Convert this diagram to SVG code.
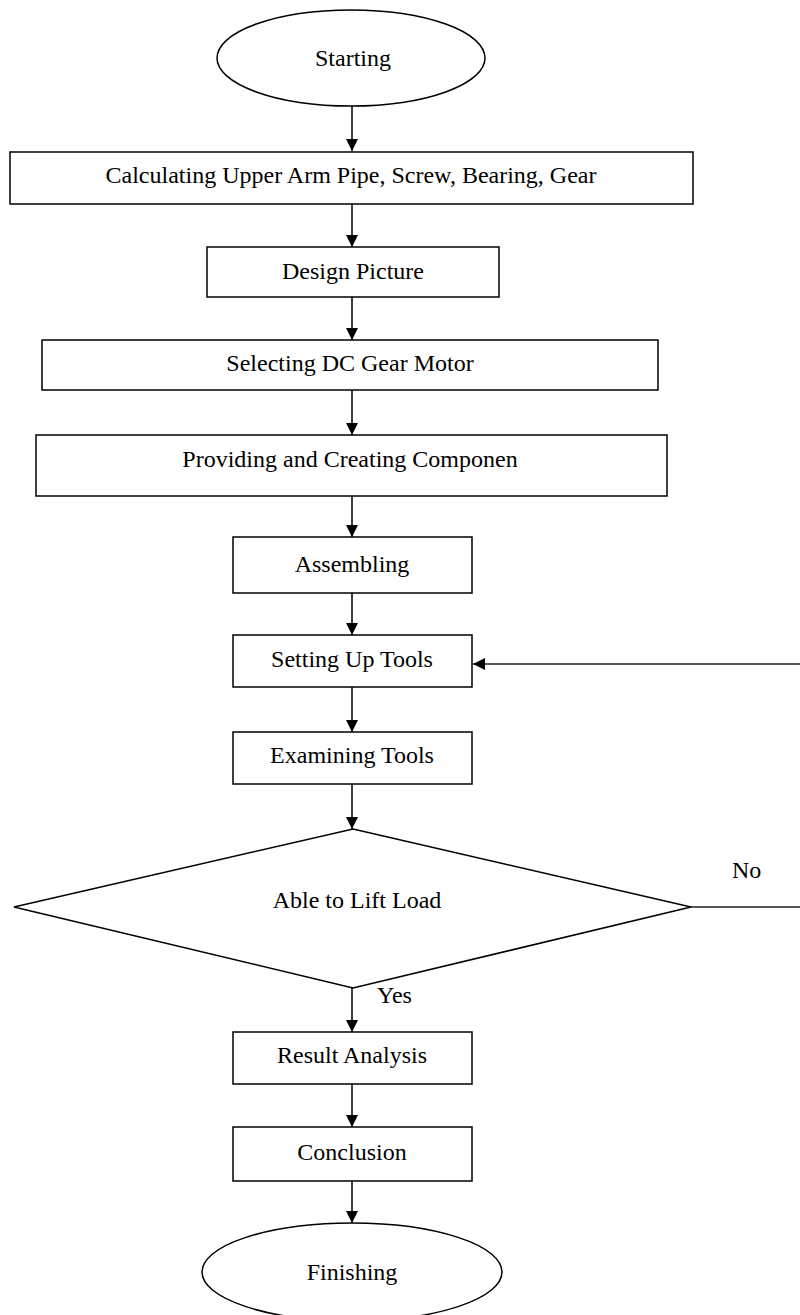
<svg xmlns="http://www.w3.org/2000/svg" width="800" height="1315" viewBox="0 0 800 1315">
<style>
.s{fill:#fff;stroke:#000;stroke-width:1.5}
.t{font-family:"Liberation Serif","Times New Roman",serif;font-size:24px;fill:#000;text-anchor:middle}
.l{font-family:"Liberation Serif","Times New Roman",serif;font-size:24px;fill:#000}
.c{fill:none;stroke:#000;stroke-width:1.5}
.g{fill:none;stroke:#555;stroke-width:2}
</style>
<defs>
<marker id="ah" markerUnits="userSpaceOnUse" markerWidth="12" markerHeight="14" viewBox="0 0 12 14" refX="12" refY="7" orient="auto">
<path d="M0,1 L12,7 L0,13 Z" fill="#000"/>
</marker>
</defs>
<rect width="800" height="1315" fill="#fff"/>
<g id="connectors">
<line class="c" x1="352" y1="106" x2="352" y2="151" marker-end="url(#ah)"/>
<line class="c" x1="352" y1="204" x2="352" y2="247" marker-end="url(#ah)"/>
<line class="c" x1="352" y1="297" x2="352" y2="340" marker-end="url(#ah)"/>
<line class="c" x1="352" y1="390" x2="352" y2="435" marker-end="url(#ah)"/>
<line class="c" x1="352" y1="496" x2="352" y2="537" marker-end="url(#ah)"/>
<line class="c" x1="352" y1="593" x2="352" y2="635" marker-end="url(#ah)"/>
<line class="c" x1="352" y1="687" x2="352" y2="732" marker-end="url(#ah)"/>
<line class="c" x1="352" y1="784" x2="352" y2="829" marker-end="url(#ah)"/>
<line class="c" x1="352" y1="988" x2="352" y2="1032" marker-end="url(#ah)"/>
<line class="c" x1="352" y1="1084" x2="352" y2="1127" marker-end="url(#ah)"/>
<line class="c" x1="352" y1="1181" x2="352" y2="1223" marker-end="url(#ah)"/>
<line class="g" x1="800" y1="664" x2="473" y2="664" marker-end="url(#ah)"/>
<line class="g" x1="691" y1="907" x2="800" y2="907"/>
<text class="l" x="732" y="878">No</text>
<text class="l" x="377" y="1003">Yes</text>
</g>
<g id="start"><ellipse class="s" cx="351" cy="58" rx="134" ry="48"/><text class="t" x="353" y="66">Starting</text></g>
<g id="calc"><rect class="s" x="10" y="152" width="683" height="52"/><text class="t" x="351" y="183">Calculating Upper Arm Pipe, Screw, Bearing, Gear</text></g>
<g id="design"><rect class="s" x="207" y="247" width="292" height="50"/><text class="t" x="353" y="279">Design Picture</text></g>
<g id="select"><rect class="s" x="42" y="340" width="616" height="50"/><text class="t" x="350" y="371">Selecting DC Gear Motor</text></g>
<g id="provide"><rect class="s" x="36" y="435" width="631" height="61"/><text class="t" x="350" y="467">Providing and Creating Componen</text></g>
<g id="assemble"><rect class="s" x="233" y="537" width="239" height="56"/><text class="t" x="352" y="572">Assembling</text></g>
<g id="setup"><rect class="s" x="233" y="635" width="239" height="52"/><text class="t" x="352" y="667">Setting Up Tools</text></g>
<g id="examine"><rect class="s" x="233" y="732" width="239" height="52"/><text class="t" x="352" y="763">Examining Tools</text></g>
<g id="decision"><polygon class="s" points="353,829 691,907 353,988 14,907"/><text class="t" x="357" y="908">Able to Lift Load</text></g>
<g id="result"><rect class="s" x="233" y="1032" width="239" height="52"/><text class="t" x="352" y="1063">Result Analysis</text></g>
<g id="conclusion"><rect class="s" x="233" y="1127" width="239" height="54"/><text class="t" x="352" y="1160">Conclusion</text></g>
<g id="finish"><ellipse class="s" cx="352" cy="1272" rx="150" ry="49"/><text class="t" x="352" y="1280">Finishing</text></g>
</svg>
